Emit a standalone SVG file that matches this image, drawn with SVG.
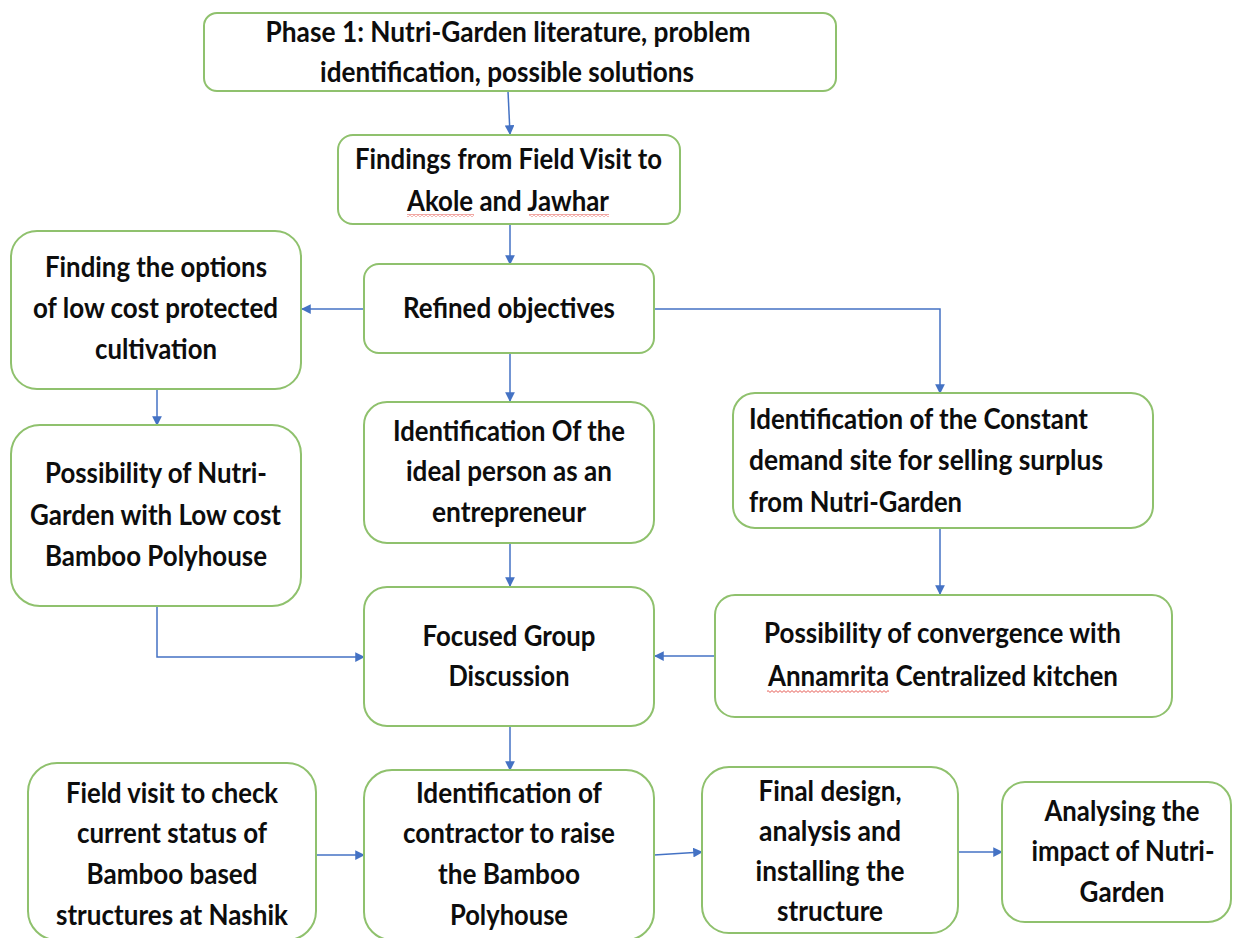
<svg xmlns="http://www.w3.org/2000/svg" width="1233" height="938" viewBox="0 0 1233 938">
  <style>
    .box { fill: #ffffff; stroke: #8fc16d; stroke-width: 2; }
    .t { font-family: Lato, "Liberation Sans", "DejaVu Sans", sans-serif; font-weight: 700; font-size: 28px; fill: #0d0d0d; }
    .c { text-anchor: middle; }
    .link { fill: none; stroke: #4472c4; stroke-width: 1.5; marker-end: url(#arrow); }
    .squiggle { fill: url(#wave); }
  </style>
  <defs>
    <marker id="arrow" viewBox="0 0 10 10" refX="9" refY="5" markerWidth="6.5" markerHeight="6.5" markerUnits="strokeWidth" orient="auto">
      <path d="M0,0 L10,5 L0,10 z" fill="#4472c4"/>
    </marker>
    <!-- spell-check style wavy underline -->
    <pattern id="wave" patternUnits="userSpaceOnUse" width="4" height="3">
      <path d="M0,0.6 L2,2.4 L4,0.6" fill="none" stroke="#e0362c" stroke-width="0.8"/>
    </pattern>
  </defs>

  <rect width="1233" height="938" fill="#ffffff"/>

  <!-- connectors -->
  <g id="connectors">
    <path class="link" d="M508,91 L510,134"/>
    <path class="link" d="M510,224 L510,264"/>
    <path class="link" d="M364,309 L302,309"/>
    <path class="link" d="M157,389 L157,425"/>
    <path class="link" d="M157,606 L157,657 L364,657"/>
    <path class="link" d="M654,309 L940,309 L940,393"/>
    <path class="link" d="M510,353 L510,401"/>
    <path class="link" d="M940,528 L940,594"/>
    <path class="link" d="M715,656 L655,656"/>
    <path class="link" d="M510,543 L510,586"/>
    <path class="link" d="M510,726 L510,770"/>
    <path class="link" d="M316,855 L364,855"/>
    <path class="link" d="M654,855 L702,852"/>
    <path class="link" d="M958,852 L1002,852"/>
  </g>

  <g id="phase1">
    <rect class="box" x="204" y="13" width="632" height="78" rx="13"/>
    <text class="t c" x="508" y="42" textLength="485" lengthAdjust="spacingAndGlyphs">Phase 1: Nutri-Garden literature, problem</text>
    <text class="t c" x="507" y="82" textLength="374" lengthAdjust="spacingAndGlyphs">identification, possible solutions</text>
  </g>

  <g id="field-findings">
    <rect class="box" x="338" y="135" width="342" height="89" rx="15"/>
    <text class="t c" x="508.5" y="169" textLength="307" lengthAdjust="spacingAndGlyphs">Findings from Field Visit to</text>
    <text class="t c" x="508" y="211" textLength="202" lengthAdjust="spacingAndGlyphs">Akole and Jawhar</text>
    <rect class="squiggle" x="407" y="214" width="67" height="3"/>
    <rect class="squiggle" x="529" y="214" width="80" height="3"/>
  </g>

  <g id="refined-objectives">
    <rect class="box" x="364" y="264" width="290" height="89" rx="15"/>
    <text class="t c" x="509" y="318" textLength="212" lengthAdjust="spacingAndGlyphs">Refined objectives</text>
  </g>

  <g id="low-cost-options">
    <rect class="box" x="11" y="231" width="290" height="158" rx="26"/>
    <text class="t c" x="156" y="277" textLength="222" lengthAdjust="spacingAndGlyphs">Finding the options</text>
    <text class="t c" x="155.5" y="318" textLength="245" lengthAdjust="spacingAndGlyphs">of low cost protected</text>
    <text class="t c" x="156" y="359" textLength="122" lengthAdjust="spacingAndGlyphs">cultivation</text>
  </g>

  <g id="bamboo-polyhouse">
    <rect class="box" x="11" y="425" width="290" height="181" rx="29"/>
    <text class="t c" x="156" y="483" textLength="222" lengthAdjust="spacingAndGlyphs">Possibility of Nutri-</text>
    <text class="t c" x="155.5" y="525" textLength="251" lengthAdjust="spacingAndGlyphs">Garden with Low cost</text>
    <text class="t c" x="156" y="566" textLength="222" lengthAdjust="spacingAndGlyphs">Bamboo Polyhouse</text>
  </g>

  <g id="ideal-entrepreneur">
    <rect class="box" x="364" y="402" width="290" height="141" rx="23"/>
    <text class="t c" x="509" y="441" textLength="232" lengthAdjust="spacingAndGlyphs">Identification Of the</text>
    <text class="t c" x="509" y="481" textLength="206" lengthAdjust="spacingAndGlyphs">ideal person as an</text>
    <text class="t c" x="509" y="522" textLength="154" lengthAdjust="spacingAndGlyphs">entrepreneur</text>
  </g>

  <g id="demand-site">
    <rect class="box" x="733" y="393" width="420" height="135" rx="22"/>
    <text class="t" x="749" y="429" textLength="339" lengthAdjust="spacingAndGlyphs">Identification of the Constant</text>
    <text class="t" x="749" y="470" textLength="354" lengthAdjust="spacingAndGlyphs">demand site for selling surplus</text>
    <text class="t" x="749" y="512" textLength="213" lengthAdjust="spacingAndGlyphs">from Nutri-Garden</text>
  </g>

  <g id="annamrita-kitchen">
    <rect class="box" x="715" y="595" width="457" height="122" rx="20"/>
    <text class="t c" x="942.5" y="643" textLength="357" lengthAdjust="spacingAndGlyphs">Possibility of convergence with</text>
    <text class="t c" x="943" y="686" textLength="350" lengthAdjust="spacingAndGlyphs">Annamrita Centralized kitchen</text>
    <rect class="squiggle" x="767" y="690" width="122" height="3"/>
  </g>

  <g id="group-discussion">
    <rect class="box" x="364" y="587" width="290" height="139" rx="23"/>
    <text class="t c" x="509" y="646" textLength="173" lengthAdjust="spacingAndGlyphs">Focused Group</text>
    <text class="t c" x="509" y="686" textLength="121" lengthAdjust="spacingAndGlyphs">Discussion</text>
  </g>

  <g id="nashik-visit">
    <rect class="box" x="28" y="763" width="288" height="177" rx="29"/>
    <text class="t c" x="172" y="803" textLength="212" lengthAdjust="spacingAndGlyphs">Field visit to check</text>
    <text class="t c" x="172" y="843" textLength="190" lengthAdjust="spacingAndGlyphs">current status of</text>
    <text class="t c" x="172" y="884" textLength="171" lengthAdjust="spacingAndGlyphs">Bamboo based</text>
    <text class="t c" x="172" y="925" textLength="232" lengthAdjust="spacingAndGlyphs">structures at Nashik</text>
  </g>

  <g id="contractor">
    <rect class="box" x="364" y="770" width="290" height="170" rx="28"/>
    <text class="t c" x="509" y="803" textLength="186" lengthAdjust="spacingAndGlyphs">Identification of</text>
    <text class="t c" x="509" y="843" textLength="212" lengthAdjust="spacingAndGlyphs">contractor to raise</text>
    <text class="t c" x="509" y="884" textLength="142" lengthAdjust="spacingAndGlyphs">the Bamboo</text>
    <text class="t c" x="509" y="925" textLength="118" lengthAdjust="spacingAndGlyphs">Polyhouse</text>
  </g>

  <g id="final-design">
    <rect class="box" x="702" y="767" width="256" height="166" rx="27"/>
    <text class="t c" x="830" y="801" textLength="143" lengthAdjust="spacingAndGlyphs">Final design,</text>
    <text class="t c" x="830" y="841" textLength="142" lengthAdjust="spacingAndGlyphs">analysis and</text>
    <text class="t c" x="830" y="881" textLength="149" lengthAdjust="spacingAndGlyphs">installing the</text>
    <text class="t c" x="830" y="921" textLength="106" lengthAdjust="spacingAndGlyphs">structure</text>
  </g>

  <g id="impact-analysis">
    <rect class="box" x="1002" y="782" width="229" height="140" rx="23"/>
    <text class="t c" x="1122" y="821" textLength="155" lengthAdjust="spacingAndGlyphs">Analysing the</text>
    <text class="t c" x="1123" y="861" textLength="183" lengthAdjust="spacingAndGlyphs">impact of Nutri-</text>
    <text class="t c" x="1122" y="902" textLength="85" lengthAdjust="spacingAndGlyphs">Garden</text>
  </g>
</svg>
